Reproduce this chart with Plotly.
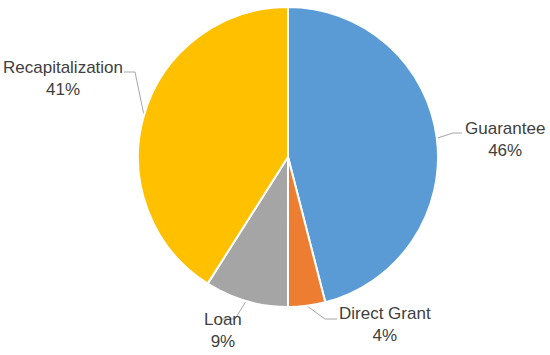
import math
import plotly.graph_objects as go

labels = ["Guarantee", "Direct Grant", "Loan", "Recapitalization"]
shares = [46, 4, 9, 41]
colors = ["#5B9BD5", "#ED7D31", "#A5A5A5", "#FFC000"]

W, H = 550, 355
# pie centre and radius in pixels
cx, cy, r = 288, 157, 150

# label placement: (text centre x, text centre y, elbow point, line end)
label_pos = {
    "Guarantee": (505, 139, (453, 133), (462, 133)),
    "Direct Grant": (385, 324, (325, 319), (337, 319)),
    "Loan": (223, 330, (235, 319), (222, 319)),
    "Recapitalization": (63, 78, (135, 72), (124, 72)),
}

font_family = "Liberation Sans, Arial, sans-serif"

fig = go.Figure()
fig.add_trace(go.Pie(
    labels=labels,
    values=shares,
    sort=False,
    direction="clockwise",
    rotation=0,
    marker=dict(colors=colors, line=dict(color="white", width=2)),
    textinfo="none",
    hoverinfo="label+percent",
    showlegend=False,
    domain=dict(x=[(cx - r) / W, (cx + r) / W], y=[1 - (cy + r) / H, 1 - (cy - r) / H]),
))

total = sum(shares)
start = 0.0
annotations = []
for lab, val in zip(labels, shares):
    mid = start + val / total * 360 / 2
    start += val / total * 360
    ex = cx + r * math.sin(math.radians(mid))
    ey = cy - r * math.cos(math.radians(mid))
    tx, ty, elbow, end = label_pos[lab]
    fig.add_trace(go.Scatter(
        x=[ex, elbow[0], end[0]], y=[ey, elbow[1], end[1]],
        mode="lines", line=dict(color="#A6A6A6", width=1),
        hoverinfo="skip", showlegend=False,
    ))
    pct = round(val / total * 100)
    annotations.append(dict(
        x=tx, y=ty, xref="x", yref="y",
        text=f"{lab}<br>{pct}%", showarrow=False,
        xanchor="center", yanchor="middle", align="center",
        font=dict(family=font_family, size=17, color="#404040"),
    ))

fig.update_layout(
    width=W, height=H,
    margin=dict(l=0, r=0, t=0, b=0),
    paper_bgcolor="white", plot_bgcolor="rgba(0,0,0,0)",
    xaxis=dict(range=[0, W], visible=False, fixedrange=True, domain=[0, 1]),
    yaxis=dict(range=[H, 0], visible=False, fixedrange=True, domain=[0, 1]),
    annotations=annotations,
)

# drop the default page margin so the figure sits at the window's corner
fig.write_html("out.html", config={"displayModeBar": False},
               post_script="document.body.style.margin='0';")
